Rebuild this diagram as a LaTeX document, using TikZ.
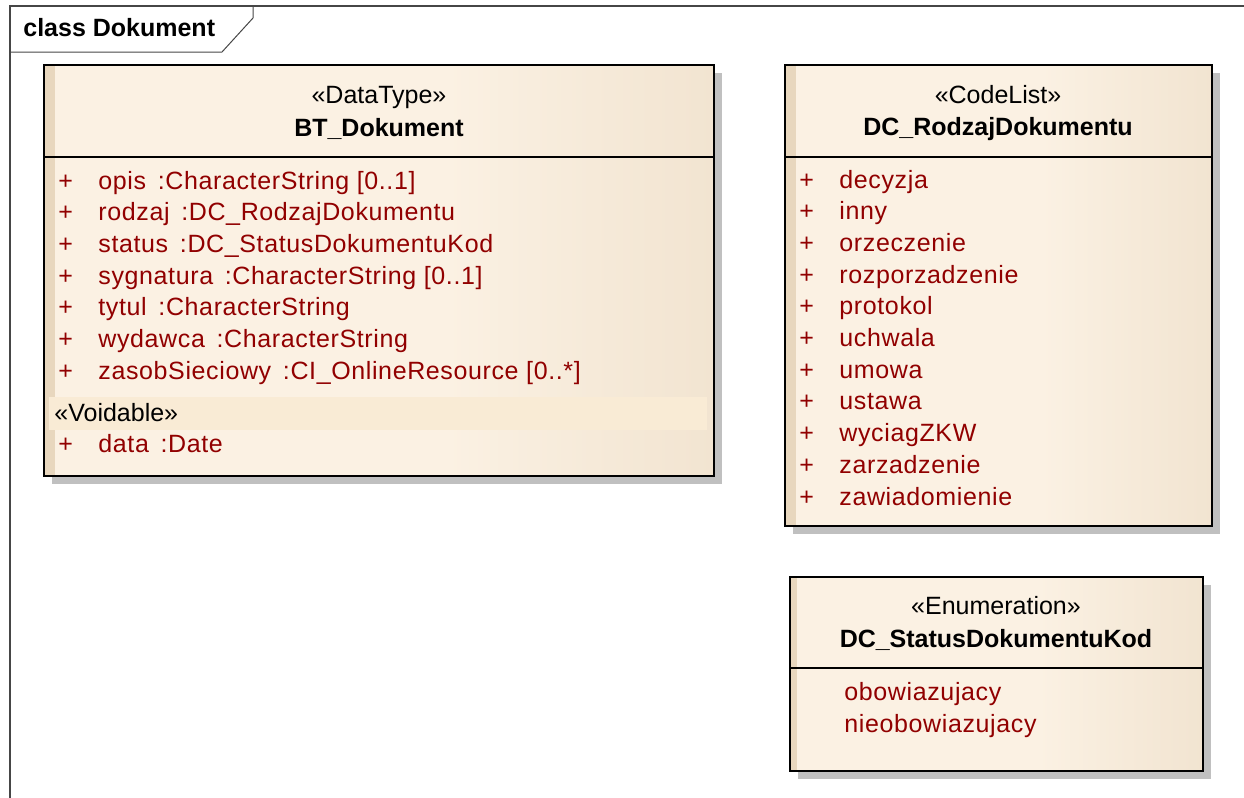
\documentclass[tikz,border=0pt]{standalone}
\usepackage{fontspec}
\setmainfont{Liberation Sans}
\newfontfamily\umlwide{Liberation Sans}[LetterSpace=2.5]

\definecolor{umlpale}{RGB}{251,241,227}
\definecolor{umltan}{RGB}{230,212,186}
\definecolor{umlstrip}{RGB}{232,215,190}
\definecolor{umlband}{RGB}{249,235,213}
\definecolor{umlred}{RGB}{145,0,0}
\definecolor{umlshadow}{RGB}{192,192,192}
\definecolor{framegray}{RGB}{70,70,70}
\pgfdeclarehorizontalshading{umlshade}{100bp}{color(0bp)=(umlpale); color(55bp)=(umlpale); color(100bp)=(umltan)}

\begin{document}
\begin{tikzpicture}[x=0.5pt,y=-0.5pt,
  umltxt/.style={font=\umlwide\fontsize{12.5}{15}\selectfont, inner sep=0pt, anchor=base west, text=umlred},
  umlhead/.style={font=\fontsize{12.5}{15}\selectfont, inner sep=0pt, anchor=base},
  umltitle/.style={font=\fontsize{12.5}{15}\selectfont\bfseries, inner sep=0pt, anchor=base}]
\useasboundingbox (0,0) rectangle (1244,798);
% diagram frame
\draw[line width=1pt, framegray] (1244,6) -- (10,6) -- (10,798);
\draw[line width=0.5pt, framegray] (253,6) -- (253,18) -- (222,52) -- (10,52);
\node[umltitle, anchor=base west] (frame) at (23,36) {class Dokument};

% BT_Dokument
\fill[umlshadow] (52,73) rectangle (722,484);
\shade[shading=umlshade] (44,65) rectangle (714,476);
\fill[umlstrip] (45,66) rectangle (55,475);
\fill[umlband] (49,397) rectangle (707,430);
\draw[line width=1pt] (44,65) rectangle (714,476);
\draw[line width=0.75pt] (44,157) -- (714,157);
\node[umlhead] (btst) at (379,103) {«DataType»};
\node[umltitle] (btname) at (379,136) {BT\_Dokument};
\foreach \attr [count=\i] in {{opis\, :CharacterString [0..1]},{rodzaj\, :DC\_RodzajDokumentu},
  {status\, :DC\_StatusDokumentuKod},{sygnatura\, :CharacterString [0..1]},{tytul\, :CharacterString},
  {wydawca\, :CharacterString},{zasobSieciowy\, :CI\_OnlineResource [0..*]}}
  \node[umltxt] (bt\i) at (58,{189+(\i-1)*31.7}) {\makebox[20pt][l]{+}\attr};
\node[umlhead, anchor=base west] (btvoid) at (54,421) {«Voidable»};
\node[umltxt] (btdata) at (58,452) {\makebox[20pt][l]{+}data\, :Date};

% DC_RodzajDokumentu
\fill[umlshadow] (793,73) rectangle (1220,534);
\shade[shading=umlshade] (785,65) rectangle (1212,526);
\fill[umlstrip] (786,66) rectangle (796,525);
\draw[line width=1pt] (785,65) rectangle (1212,526);
\draw[line width=0.75pt] (785,157) -- (1212,157);
\node[umlhead] (rdst) at (998,103) {«CodeList»};
\node[umltitle] (rdname) at (998,135) {DC\_RodzajDokumentu};
\foreach \val [count=\i] in {decyzja,inny,orzeczenie,rozporzadzenie,protokol,uchwala,
  umowa,ustawa,wyciagZKW,zarzadzenie,zawiadomienie}
  \node[umltxt] (rd\i) at (799,{188+(\i-1)*31.7}) {\makebox[20pt][l]{+}\val};

% DC_StatusDokumentuKod
\fill[umlshadow] (798,585) rectangle (1211,779);
\shade[shading=umlshade] (790,577) rectangle (1203,771);
\fill[umlstrip] (791,578) rectangle (797,770);
\draw[line width=1pt] (790,577) rectangle (1203,771);
\draw[line width=0.75pt] (790,668) -- (1203,668);
\node[umlhead] (stst) at (996,614) {«Enumeration»};
\node[umltitle] (stname) at (996,647) {DC\_StatusDokumentuKod};
\node[umltxt] (st1) at (844,700) {obowiazujacy};
\node[umltxt] (st2) at (844,732) {nieobowiazujacy};
\end{tikzpicture}
\end{document}
